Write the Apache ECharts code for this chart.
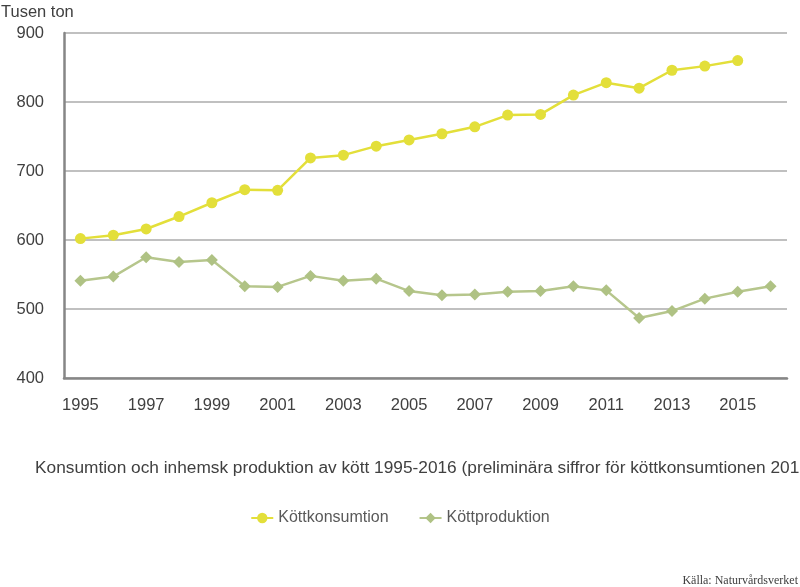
<!DOCTYPE html>
<html>
<head>
<meta charset="utf-8">
<script src="https://cdn.jsdelivr.net/npm/echarts@6/dist/echarts.min.js"></script>
<style>html,body{margin:0;padding:0;background:#fff}#c{width:800px;height:587px}</style>
</head>
<body>
<div id="c"></div>
<script>
var years = ['1995','1996','1997','1998','1999','2000','2001','2002','2003','2004','2005','2006','2007','2008','2009','2010','2011','2012','2013','2014','2015','2016'];
var konsumtion = [602, 607, 616, 634, 654, 673, 672, 719, 723, 736, 745, 754, 764, 781, 782, 810, 828, 820, 846, 852, 860, null];
var produktion = [541, 547, 575, 568, 571, 533, 532, 548, 541, 544, 526, 520, 521, 525, 526, 533, 527, 487, 497, 515, 525, 533];
var yTicks = {min: 400, max: 900, step: 100};

var chart = echarts.init(document.getElementById('c'), null, {renderer: 'canvas'});
var txt = '#404040';
chart.setOption({
  backgroundColor: '#fff',
  animation: false,
  title: [
    {text: 'Tusen ton', left: -4, top: -1, textStyle: {fontFamily: 'Liberation Sans', fontSize: 16.5, fontWeight: 'normal', color: txt}},
    {text: 'Konsumtion och inhemsk produktion av kött 1995-2016 (preliminära siffror för köttkonsumtionen 201', left: 30, top: 455, textStyle: {fontFamily: 'Liberation Sans', fontSize: 17.3, fontWeight: 'normal', color: txt}},
    {text: 'Källa: Naturvårdsverket', right: -3, top: 570, textStyle: {fontFamily: 'Liberation Serif', fontSize: 12, fontWeight: 'normal', color: txt}}
  ],
  legend: {
    bottom: 53, left: 'center',
    backgroundColor: '#fff',
    padding: [8, 12],
    itemGap: 30,
    itemWidth: 22, itemHeight: 13,
    textStyle: {fontFamily: 'Liberation Sans', fontSize: 16, color: '#595959'},
    data: ['Köttkonsumtion', 'Köttproduktion']
  },
  grid: {left: 64, right: 13, top: 33, bottom: 209, containLabel: false},
  xAxis: {
    type: 'category', data: years, boundaryGap: true,
    axisLine: {lineStyle: {color: '#868686', width: 2.5}},
    axisTick: {show: false},
    axisLabel: {interval: 1, margin: 19, fontFamily: 'Liberation Sans', fontSize: 16.5, color: txt}
  },
  yAxis: {
    type: 'value', min: yTicks.min, max: yTicks.max, interval: yTicks.step,
    axisLine: {show: true, lineStyle: {color: '#868686', width: 2.5}},
    axisTick: {show: false},
    axisLabel: {margin: 20, fontFamily: 'Liberation Sans', fontSize: 16.5, color: txt},
    splitLine: {lineStyle: {color: '#c0c0c0', width: 2}}
  },
  series: [
    {name: 'Köttkonsumtion', type: 'line', data: konsumtion, symbol: 'circle', symbolSize: 11,
     lineStyle: {color: '#e3df3a', width: 2.5}, itemStyle: {color: '#e3df3a'}},
    {name: 'Köttproduktion', type: 'line', data: produktion, symbol: 'diamond', symbolSize: 12,
     lineStyle: {color: '#b6c68c', width: 2.5}, itemStyle: {color: '#afc284'}}
  ]
});
</script>
</body>
</html>
